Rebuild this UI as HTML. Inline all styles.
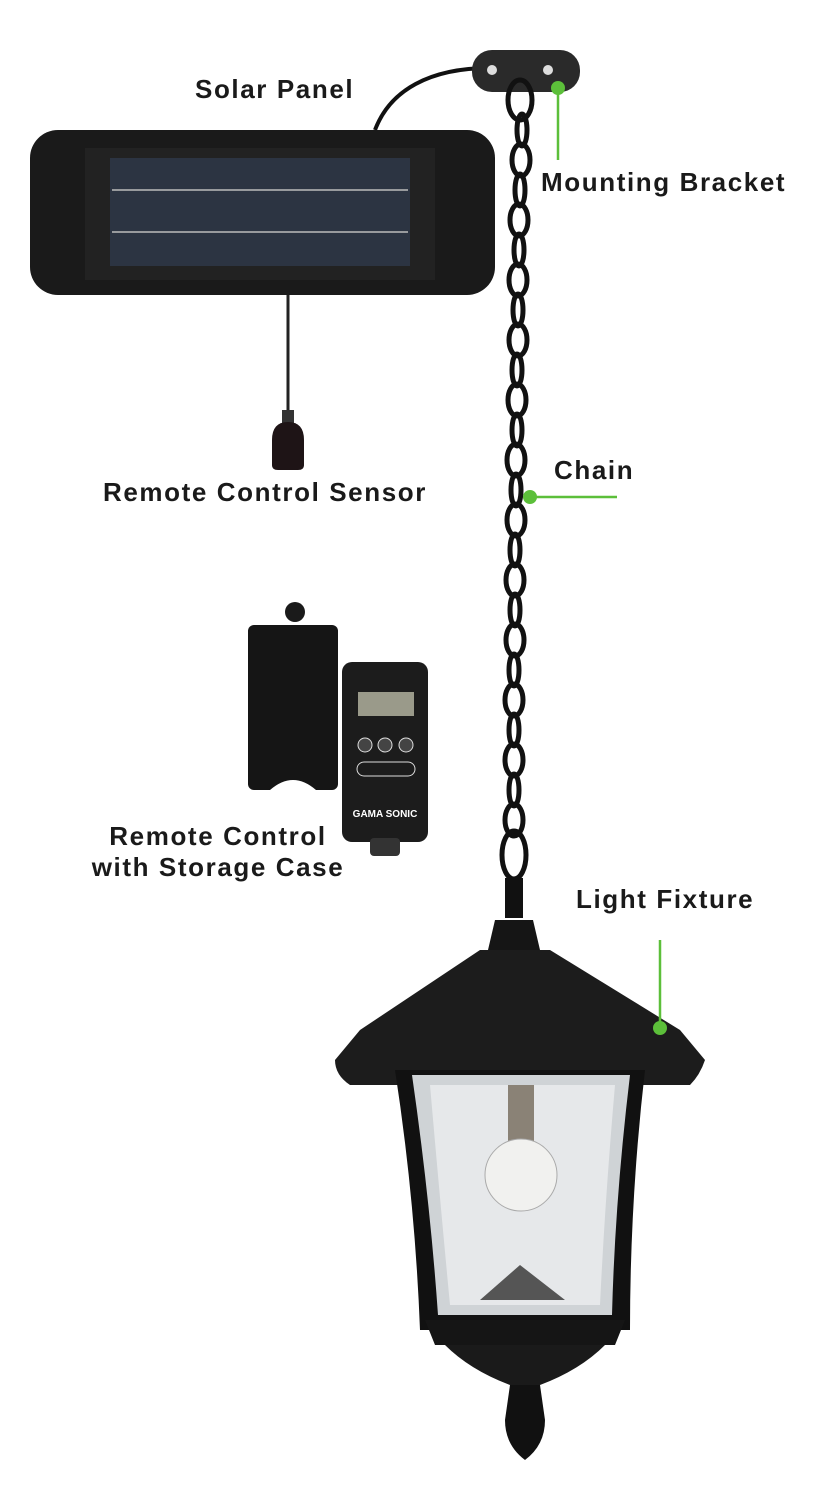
<!DOCTYPE html>
<html><head><meta charset="utf-8"><style>
html,body{margin:0;padding:0;background:#fff;}
.w{position:relative;width:825px;height:1511px;overflow:hidden;font-family:"Liberation Sans",sans-serif;}
.l{position:absolute;font-weight:bold;font-size:26px;letter-spacing:1.6px;color:#1a1a1a;white-space:nowrap;}
svg{position:absolute;left:0;top:0}
</style></head><body><div class="w">
<svg width="825" height="1511" viewBox="0 0 825 1511">
<path d="M375 130 C390 90 430 68 490 68" stroke="#111" stroke-width="4" fill="none"/>
<rect x="472" y="50" width="108" height="42" rx="20" fill="#2a2a2a"/>
<circle cx="492" cy="70" r="5" fill="#ddd"/><circle cx="548" cy="70" r="5" fill="#ddd"/>
<g stroke="#111" stroke-width="5" fill="none">
<ellipse cx="520" cy="100" rx="12" ry="20"/>
<ellipse cx="522" cy="130" rx="5" ry="16"/><ellipse cx="521" cy="160" rx="9" ry="16"/>
<ellipse cx="520" cy="190" rx="5" ry="16"/><ellipse cx="519" cy="220" rx="9" ry="16"/>
<ellipse cx="519" cy="250" rx="5" ry="16"/><ellipse cx="518" cy="280" rx="9" ry="16"/>
<ellipse cx="518" cy="310" rx="5" ry="16"/><ellipse cx="518" cy="340" rx="9" ry="16"/>
<ellipse cx="517" cy="370" rx="5" ry="16"/><ellipse cx="517" cy="400" rx="9" ry="16"/>
<ellipse cx="517" cy="430" rx="5" ry="16"/><ellipse cx="516" cy="460" rx="9" ry="16"/>
<ellipse cx="516" cy="490" rx="5" ry="16"/><ellipse cx="516" cy="520" rx="9" ry="16"/>
<ellipse cx="515" cy="550" rx="5" ry="16"/><ellipse cx="515" cy="580" rx="9" ry="16"/>
<ellipse cx="515" cy="610" rx="5" ry="16"/><ellipse cx="515" cy="640" rx="9" ry="16"/>
<ellipse cx="514" cy="670" rx="5" ry="16"/><ellipse cx="514" cy="700" rx="9" ry="16"/>
<ellipse cx="514" cy="730" rx="5" ry="16"/><ellipse cx="514" cy="760" rx="9" ry="16"/>
<ellipse cx="514" cy="790" rx="5" ry="16"/><ellipse cx="514" cy="820" rx="9" ry="16"/>
<ellipse cx="514" cy="855" rx="12" ry="24"/>
</g>
<rect x="30" y="130" width="465" height="165" rx="28" fill="#1a1a1a"/>
<rect x="85" y="148" width="350" height="132" fill="#222"/>
<rect x="110" y="158" width="300" height="108" fill="#2c3442"/>
<line x1="112" y1="190" x2="408" y2="190" stroke="#bbb" stroke-width="1.5"/>
<line x1="112" y1="232" x2="408" y2="232" stroke="#bbb" stroke-width="1.5"/>
<line x1="288" y1="295" x2="288" y2="415" stroke="#222" stroke-width="3"/>
<rect x="282" y="410" width="12" height="15" fill="#333"/>
<path d="M272 440 Q272 422 288 422 Q304 422 304 440 V465 Q304 470 298 470 H278 Q272 470 272 465Z" fill="#1e1416"/>
<circle cx="295" cy="612" r="10" fill="#1a1a1a"/>
<rect x="248" y="625" width="90" height="165" rx="6" fill="#151515"/>
<path d="M270 790 Q293 770 316 790Z" fill="#fff"/>
<rect x="342" y="662" width="86" height="180" rx="10" fill="#1c1c1c"/>
<rect x="370" y="838" width="30" height="18" rx="4" fill="#333"/>
<rect x="358" y="692" width="56" height="24" fill="#9a9a8a"/>
<circle cx="365" cy="745" r="7" fill="#444" stroke="#ddd"/><circle cx="385" cy="745" r="7" fill="#444" stroke="#ddd"/><circle cx="406" cy="745" r="7" fill="#444" stroke="#ddd"/>
<rect x="357" y="762" width="58" height="14" rx="7" fill="none" stroke="#ddd"/>
<text x="385" y="817" fill="#fff" font-size="10" font-weight="bold" text-anchor="middle" font-family="Liberation Sans">GAMA SONIC</text>
<rect x="505" y="878" width="18" height="40" fill="#111"/>
<path d="M495 920 H533 L540 950 H488Z" fill="#151515"/>
<path d="M480 950 H550 L680 1030 L705 1060 Q700 1075 690 1085 H350 Q335 1075 335 1060 L360 1030Z" fill="#1c1c1c"/>
<path d="M395 1070 H645 Q630 1200 630 1330 H420 Q415 1200 395 1070Z" fill="#111"/>
<path d="M412 1075 H630 Q615 1200 612 1315 H438 Q430 1200 412 1075Z" fill="#cfd3d6"/>
<path d="M430 1085 H615 Q605 1200 600 1305 H450 Q440 1200 430 1085Z" fill="#e6e8ea"/>
<rect x="508" y="1085" width="26" height="85" fill="#8a8276"/>
<circle cx="521" cy="1175" r="36" fill="#f1f1ef" stroke="#aaa"/>
<path d="M480 1300 L520 1265 L565 1300Z" fill="#555"/>
<path d="M425 1320 H625 L615 1345 H435Z" fill="#151515"/>
<path d="M445 1345 H605 Q580 1370 540 1385 H510 Q470 1370 445 1345Z" fill="#1a1a1a"/>
<path d="M510 1385 H540 L545 1420 Q545 1445 525 1460 Q505 1445 505 1420Z" fill="#111"/>
<g stroke="#5cbf3a" stroke-width="2.5">
<line x1="558" y1="88" x2="558" y2="160"/>
<line x1="530" y1="497" x2="617" y2="497"/>
<line x1="660" y1="1028" x2="660" y2="940"/>
</g>
<g fill="#5cbf3a"><circle cx="558" cy="88" r="7"/><circle cx="530" cy="497" r="7"/><circle cx="660" cy="1028" r="7"/></g>
</svg>
<div class="l" style="left:195px;top:74px">Solar Panel</div>
<div class="l" style="left:541px;top:167px">Mounting Bracket</div>
<div class="l" style="left:554px;top:455px">Chain</div>
<div class="l" style="left:103px;top:477px">Remote Control Sensor</div>
<div class="l" style="left:88px;top:821px;width:260px;text-align:center;line-height:31px">Remote Control<br>with Storage Case</div>
<div class="l" style="left:576px;top:884px">Light Fixture</div>
</div></body></html>
